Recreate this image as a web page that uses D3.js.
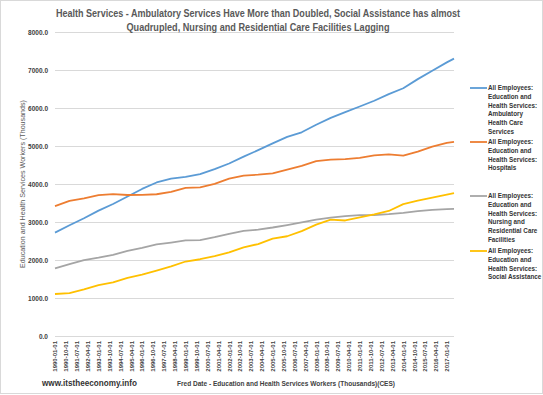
<!DOCTYPE html>
<html>
<head>
<meta charset="utf-8">
<script src="https://cdn.jsdelivr.net/npm/d3@7"></script>
<style>
  body { margin: 0; background: #fff; }
  text { font-family: "Liberation Sans", Arial, sans-serif; }
</style>
</head>
<body>
<div id="main"></div>
<script>
// values, one per January + last month (thousands)
const dates = ["1990-01-01","1991-01-01","1992-01-01","1993-01-01","1994-01-01","1995-01-01",
  "1996-01-01","1997-01-01","1998-01-01","1999-01-01","2000-01-01","2001-01-01","2002-01-01",
  "2003-01-01","2004-01-01","2005-01-01","2006-01-01","2007-01-01","2008-01-01","2009-01-01",
  "2010-01-01","2011-01-01","2012-01-01","2013-01-01","2014-01-01","2015-01-01","2016-01-01",
  "2017-01-01","2017-07-01"];

const ambulatory = [2720,2915,3100,3300,3475,3670,3870,4040,4140,4185,4260,4390,4540,4720,4890,
  5070,5240,5360,5560,5740,5890,6040,6190,6365,6520,6760,6980,7200,7300];
const hospitals = [3420,3555,3620,3705,3735,3710,3715,3730,3790,3900,3913,4005,4140,4220,4245,
  4280,4380,4475,4600,4640,4655,4690,4755,4780,4745,4850,4985,5080,5110];
const nursing = [1780,1890,1995,2060,2135,2240,2320,2410,2460,2515,2525,2600,2690,2765,2800,
  2855,2920,2990,3060,3115,3155,3180,3184,3205,3240,3285,3320,3340,3345];
const social = [1105,1130,1225,1340,1410,1530,1615,1720,1830,1960,2020,2100,2200,2330,2420,
  2560,2625,2760,2930,3060,3040,3120,3200,3290,3470,3560,3640,3720,3760];

const seriesNames = [
  ["All Employees:", "Education and", "Health Services:", "Ambulatory", "Health Care", "Services"],
  ["All Employees:", "Education and", "Health Services:", "Hospitals"],
  ["All Employees:", "Education and", "Health Services:", "Nursing and", "Residential Care", "Facilities"],
  ["All Employees:", "Education and", "Health Services:", "Social Assistance"]
];
const colors = ["#5b9bd5", "#ed7d31", "#a5a5a5", "#ffc000"];
const yTicks = [0,1000,2000,3000,4000,5000,6000,7000,8000];
const titleLines = ["Health Services - Ambulatory Services Have More than Doubled, Social Assistance has almost",
  "Quadrupled, Nursing and Residential Care Facilities Lagging"];

const width = 543, height = 395;
const margin = {top: 32, right: 89, bottom: 59, left: 55};

const parse = d3.utcParse("%Y-%m-%d");
const fmt = d3.utcFormat("%Y-%m-%d");
const allSeries = [ambulatory, hospitals, nursing, social].map(function(vals) {
  return vals.map(function(v, i) { return {date: parse(dates[i]), value: v}; });
});

const svg = d3.select("#main").append("svg")
  .attr("width", width)
  .attr("height", height);

svg.append("rect")
  .attr("x", 0.5).attr("y", 0.5)
  .attr("width", width - 1).attr("height", height - 2)
  .attr("fill", "#fff")
  .attr("stroke", "#d9d9d9");

const x = d3.scaleUtc()
  .domain([parse("1990-01-01"), parse("2017-07-01")])
  .range([margin.left, width - margin.right]);
const y = d3.scaleLinear()
  .domain([0, 8000])
  .range([height - margin.bottom, margin.top]);

// gridlines + y labels
const yAxis = d3.axisLeft(y)
  .tickValues(yTicks)
  .tickSize(-(width - margin.left - margin.right))
  .tickPadding(7)
  .tickFormat(d3.format(".1f"));

svg.append("g")
  .attr("class", "y axis")
  .attr("transform", "translate(" + margin.left + ",0)")
  .call(yAxis)
  .call(function(g) {
    g.select(".domain").remove();
    g.selectAll("line").attr("stroke", "#d9d9d9");
    g.selectAll("text")
      .attr("fill", "#404040")
      .style("font-size", "6.5px")
      .style("font-weight", "bold");
  });

const tickDates = d3.utcMonth.range(parse("1990-01-01"), parse("2017-02-01"), 9);
const xAxis = d3.axisBottom(x)
  .tickValues(tickDates)
  .tickSize(0)
  .tickFormat(fmt);

svg.append("g")
  .attr("class", "x axis")
  .attr("transform", "translate(0," + (height - margin.bottom) + ")")
  .call(xAxis)
  .call(function(g) {
    g.select(".domain").remove();
    g.selectAll("text")
      .attr("transform", "rotate(-90)")
      .attr("x", -5)
      .attr("y", 0)
      .attr("dy", "0.32em")
      .attr("text-anchor", "end")
      .attr("fill", "#404040")
      .style("font-size", "6px")
      .style("font-weight", "bold");
  });

const line = d3.line()
  .x(function(d) { return x(d.date); })
  .y(function(d) { return y(d.value); });

svg.selectAll(".series")
  .data(allSeries)
  .enter()
  .append("path")
  .attr("class", "series")
  .attr("d", line)
  .attr("fill", "none")
  .attr("stroke", function(d, i) { return colors[i]; })
  .attr("stroke-width", 1.8)
  .attr("stroke-linejoin", "round");

// title
svg.selectAll(".title")
  .data(titleLines)
  .enter()
  .append("text")
  .attr("class", "title")
  .attr("x", 258)
  .attr("y", function(d, i) { return 17 + i * 14; })
  .attr("text-anchor", "middle")
  .attr("textLength", function(d, i) { return i === 0 ? 404 : 263; })
  .attr("lengthAdjust", "spacingAndGlyphs")
  .attr("fill", "#595959")
  .style("font-size", "10px")
  .style("font-weight", "bold")
  .text(function(d) { return d; });

// axis titles
svg.append("text")
  .attr("transform", "translate(25," + ((margin.top + height - margin.bottom) / 2) + ") rotate(-90)")
  .attr("text-anchor", "middle")
  .attr("fill", "#595959")
  .attr("textLength", 168)
  .attr("lengthAdjust", "spacingAndGlyphs")
  .style("font-size", "7px")
  .text("Education and Health Services Workers (Thousands)");

svg.append("text")
  .attr("x", 286)
  .attr("y", 386)
  .attr("text-anchor", "middle")
  .attr("fill", "#404040")
  .attr("textLength", 218)
  .attr("lengthAdjust", "spacingAndGlyphs")
  .style("font-size", "7.5px")
  .style("font-weight", "bold")
  .text("Fred Date - Education and Health Services Workers (Thousands)(CES)");

svg.append("text")
  .attr("x", 42)
  .attr("y", 386)
  .attr("fill", "#333")
  .attr("textLength", 95)
  .attr("lengthAdjust", "spacingAndGlyphs")
  .style("font-size", "9px")
  .style("font-weight", "bold")
  .text("www.itstheeconomy.info");

// legend
const legendY = [88, 142, 196, 251];
const legend = svg.selectAll(".legend")
  .data(seriesNames)
  .enter()
  .append("g")
  .attr("class", "legend")
  .attr("transform", function(d, i) { return "translate(470," + legendY[i] + ")"; });

legend.append("line")
  .attr("x1", 0).attr("x2", 17)
  .attr("stroke", function(d, i) { return colors[i]; })
  .attr("stroke-width", 1.8);

legend.append("text")
  .attr("fill", "#333")
  .style("font-size", "6.3px")
  .style("font-weight", "bold")
  .selectAll("tspan")
  .data(function(d) { return d; })
  .enter()
  .append("tspan")
  .attr("x", 18)
  .attr("y", function(d, i) { return 2.3 + i * 8.7; })
  .text(function(d) { return d; });
</script>
</body>
</html>
